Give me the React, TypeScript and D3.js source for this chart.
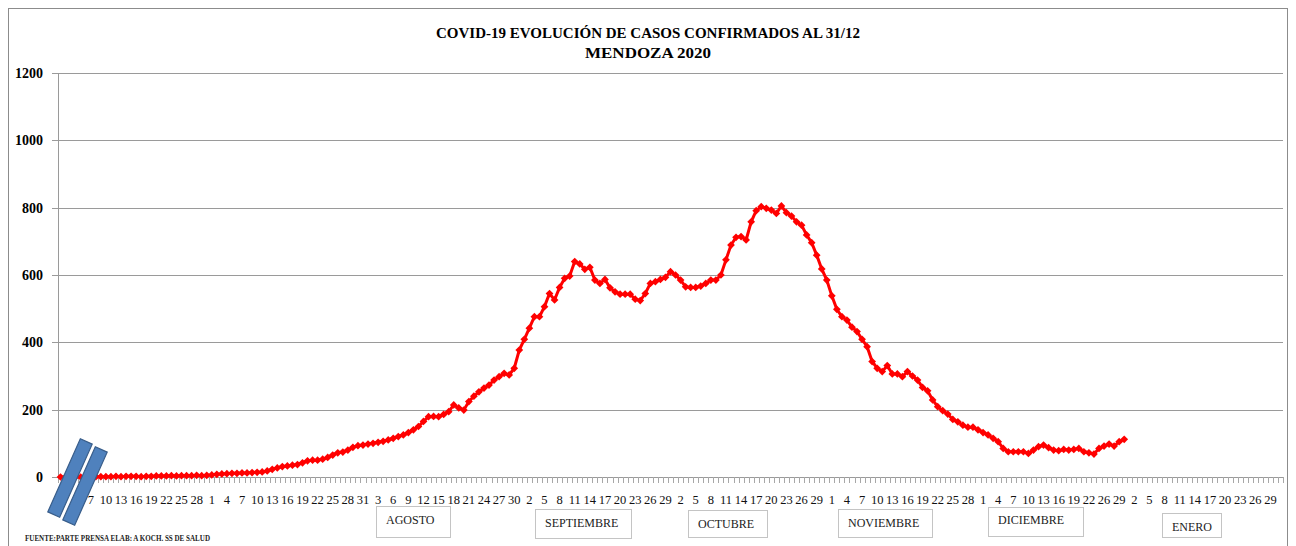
import React from "react";
import * as d3 from "d3";

// daily confirmed cases (June 1 .. end of December)
const junio = [0, 0, 0, 1, 0, 1, 1, 1, 1, 1, 1, 2, 1, 2, 2, 2, 1, 2, 2, 3, 3, 3, 4, 3, 4, 4, 4, 5, 4, 5];
const julio = [6, 8, 9, 10, 11, 11, 12, 12, 13, 14, 15, 18, 23, 27, 31, 33, 35, 37, 42, 48, 50, 50, 53, 58, 65, 72, 74, 80, 88, 93, 95];
const agosto = [98, 100, 103, 106, 110, 115, 120, 125, 132, 140, 150, 165, 179, 180, 179, 186, 194, 214, 205, 199, 224, 240, 253, 264, 273, 288, 298, 308, 303, 323, 377];
const septiembre = [409, 442, 476, 476, 506, 545, 526, 563, 590, 597, 640, 633, 617, 623, 585, 575, 587, 562, 550, 543, 543, 543, 528, 524, 545, 575, 580, 587, 593, 610];
const octubre = [600, 585, 565, 563, 563, 567, 575, 585, 585, 600, 645, 689, 712, 714, 704, 758, 791, 803, 798, 793, 783, 805, 785, 775, 758, 748, 719, 696, 659, 618, 585];
const noviembre = [538, 498, 476, 466, 445, 432, 409, 387, 343, 323, 313, 331, 306, 306, 298, 313, 300, 288, 266, 256, 229, 209, 197, 187, 171, 164, 154, 148, 148, 140];
const diciembre = [132, 125, 115, 105, 85, 75, 75, 75, 75, 70, 80, 90, 95, 87, 80, 78, 82, 80, 82, 85, 75, 72, 68, 85, 92, 98, 92, 105, 112];

const casos = [...junio, ...julio, ...agosto, ...septiembre, ...octubre, ...noviembre, ...diciembre];

// one label every third day on the category axis
const tickLabels = [
  "1", "4", "7", "10", "13", "16", "19", "22", "25", "28",
  "1", "4", "7", "10", "13", "16", "19", "22", "25", "28", "31",
  "3", "6", "9", "12", "15", "18", "21", "24", "27", "30",
  "2", "5", "8", "11", "14", "17", "20", "23", "26", "29",
  "2", "5", "8", "11", "14", "17", "20", "23", "26", "29",
  "1", "4", "7", "10", "13", "16", "19", "22", "25", "28",
  "1", "4", "7", "10", "13", "16", "19", "22", "26", "29",
  "2", "5", "8", "11", "14", "17", "20", "23", "26", "29",
];
const nCategorias = 243;
const yTicks = [0, 200, 400, 600, 800, 1000, 1200];
const meses = ["AGOSTO", "SEPTIEMBRE", "OCTUBRE", "NOVIEMBRE", "DICIEMBRE", "ENERO"];

// boxes drawn under the axis for each month name
const cajas = [
  { x0: 376, x1: 450, y0: 506, y1: 537, ty: 524 },
  { x0: 535, x1: 631, y0: 509, y1: 538, ty: 527 },
  { x0: 688, x1: 767, y0: 510, y1: 537, ty: 528 },
  { x0: 838, x1: 932, y0: 509, y1: 537, ty: 527 },
  { x0: 988, x1: 1083, y0: 507, y1: 536, ty: 524 },
  { x0: 1162, x1: 1221, y0: 513, y1: 537, ty: 531 },
];

const W = 1296;
const H = 546;
const left = 58;
const right = 1283;
const top = 73;
const bottom = 477;
const serif = "'Liberation Serif', 'DejaVu Serif', serif";

export default function App() {
  const x = d3.scaleBand<number>().domain(d3.range(nCategorias)).range([left, right]).padding(0);
  const cx = (i: number) => (x(i) as number) + x.bandwidth() / 2;
  const y = d3.scaleLinear().domain([0, 1200]).range([bottom, top]);

  const line = d3
    .line<number>()
    .x((d, i) => cx(i))
    .y((d) => y(d));

  const marker = d3.symbol().type(d3.symbolSquare).size(30)() as string;

  return (
    <svg
      width={W}
      height={H}
      style={{ position: "absolute", left: 0, top: 0, background: "#fff" }}
      fontFamily={serif}
    >
      <rect x={8.5} y={8.5} width={1279} height={560} fill="#fff" stroke="#8c8c8c" />

      <text x={648} y={38} textAnchor="middle" fontSize={15} fontWeight="bold" textLength={424} lengthAdjust="spacingAndGlyphs">
        COVID-19 EVOLUCIÓN DE CASOS CONFIRMADOS  AL 31/12
      </text>
      <text x={648} y={58} textAnchor="middle" fontSize={15} fontWeight="bold" textLength={126} lengthAdjust="spacingAndGlyphs">
        MENDOZA 2020
      </text>

      {/* grid + y axis */}
      {yTicks.map((t) => (
        <g key={t}>
          {t > 0 && <line x1={left} x2={right} y1={Math.round(y(t)) + 0.5} y2={Math.round(y(t)) + 0.5} stroke="#9a9a9a" />}
          <line x1={left - 6} x2={left} y1={Math.round(y(t)) + 0.5} y2={Math.round(y(t)) + 0.5} stroke="#9a9a9a" />
          <text x={43} y={y(t) + 5} textAnchor="end" fontSize={14} fontWeight="bold">
            {t}
          </text>
        </g>
      ))}
      <line x1={left + 0.5} x2={left + 0.5} y1={top} y2={bottom} stroke="#9a9a9a" />

      {/* category axis */}
      <line x1={left} x2={right} y1={bottom + 0.5} y2={bottom + 0.5} stroke="#9a9a9a" />
      {d3.range(nCategorias + 1).map((i) => {
        const xx = Math.round(left + i * x.step()) + 0.5;
        return <line key={i} x1={xx} x2={xx} y1={bottom} y2={bottom + 6} stroke="#a8a8a8" />;
      })}
      {tickLabels.map((l, k) => (
        <text key={k} x={cx(k * 3)} y={504} textAnchor="middle" fontSize={12.5} fill="#111">
          {l}
        </text>
      ))}

      {/* series */}
      <path d={line(casos) as string} fill="none" stroke="#ff0000" strokeWidth={3} />
      {casos.map((d, i) => (
        <path key={i} d={marker} transform={`translate(${cx(i)},${y(d)}) rotate(45)`} fill="#ff0000" />
      ))}

      {/* axis break marks */}
      <rect x={-6.5} y={-40} width={13} height={80} fill="#4f81bd" stroke="#385d8a" strokeWidth={1.2} transform="translate(70,478) rotate(24)" />
      <rect x={-6.5} y={-40} width={13} height={80} fill="#4f81bd" stroke="#385d8a" strokeWidth={1.2} transform="translate(85,486) rotate(24)" />

      {/* month boxes */}
      {meses.map((m, k) => {
        const c = cajas[k];
        return (
          <g key={m}>
            <rect x={c.x0 + 0.5} y={c.y0 + 0.5} width={c.x1 - c.x0} height={c.y1 - c.y0} fill="#fff" stroke="#c4c4c4" />
            <text x={c.x0 + 10} y={c.ty} fontSize={12} fill="#222">
              {m}
            </text>
          </g>
        );
      })}

      <text x={25} y={541} fontSize={8} fontWeight="bold" fill="#222" textLength={185} lengthAdjust="spacingAndGlyphs">
        FUENTE:PARTE PRENSA  ELAB: A KOCH. SS DE SALUD
      </text>
    </svg>
  );
}
